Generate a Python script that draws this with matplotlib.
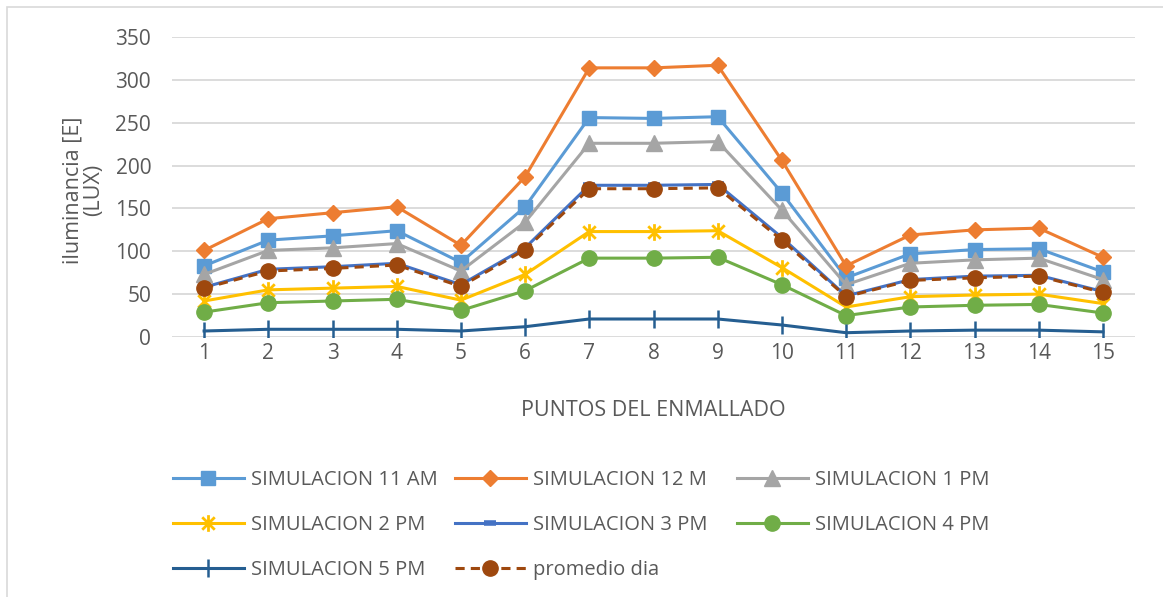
import matplotlib.pyplot as plt
from matplotlib.path import Path
from matplotlib.patches import Rectangle

plt.rcParams['font.family'] = ['Open Sans', 'DejaVu Sans']

puntos = list(range(1, 16))

sim_11am = [83, 113, 118, 124, 87, 152, 256, 255, 257, 168, 69, 97, 102, 103, 76]
sim_12m = [101, 138, 145, 152, 107, 187, 314, 314, 317, 206, 83, 119, 125, 127, 93]
sim_1pm = [73, 101, 104, 109, 77, 134, 226, 226, 228, 148, 61, 86, 90, 92, 67]
sim_2pm = [42, 55, 57, 59, 43, 73, 123, 123, 124, 81, 35, 47, 49, 50, 39]
sim_3pm = [58, 79, 82, 86, 61, 104, 177, 177, 178, 116, 48, 67, 71, 72, 53]
sim_4pm = [29, 40, 42, 44, 31, 54, 92, 92, 93, 61, 25, 35, 37, 38, 28]
sim_5pm = [7, 9, 9, 9, 7, 12, 21, 21, 21, 14, 5, 7, 8, 8, 6]
promedio = [57, 77, 80, 84, 59, 102, 173, 173, 174, 113, 47, 66, 69, 71, 52]

# asterisk marker: vertical bar plus an X
star = Path([(0, -1), (0, 1), (-0.75, -0.75), (0.75, 0.75), (-0.75, 0.75), (0.75, -0.75)],
            [Path.MOVETO, Path.LINETO, Path.MOVETO, Path.LINETO, Path.MOVETO, Path.LINETO])

series = [
    ("SIMULACION 11 AM", sim_11am, dict(color="#5B9BD5", marker="s", ms=10)),
    ("SIMULACION 12 M", sim_12m, dict(color="#ED7D31", marker="D", ms=8.5)),
    ("SIMULACION 1 PM", sim_1pm, dict(color="#A5A5A5", marker="^", ms=11)),
    ("SIMULACION 2 PM", sim_2pm, dict(color="#FFC000", marker=star, ms=12, mew=2)),
    ("SIMULACION 3 PM", sim_3pm, dict(color="#4472C4", marker="_", ms=9, mew=4)),
    ("SIMULACION 4 PM", sim_4pm, dict(color="#70AD47", marker="o", ms=11)),
    ("SIMULACION 5 PM", sim_5pm, dict(color="#255E91", marker="|", ms=13, mew=1.8)),
    ("promedio dia", promedio, dict(color="#9E480E", marker="o", ms=11, ls=(0, (3, 2)))),
]

fig = plt.figure(figsize=(11.63, 5.97), dpi=100)
ax = fig.add_axes([172 / 1163, 1 - 337 / 597, 963 / 1163, 300 / 597])

for name, vals, st in series:
    st = dict(st)
    ls = st.pop("ls", "-")
    ax.plot(puntos, vals, label=name, lw=2.2, ls=ls, mec=st["color"], **st)

ax.set_xlim(0.5, 15.5)
ax.set_ylim(0, 350)
ax.set_yticks(range(0, 351, 50))
ax.set_xticks(puntos)
ax.grid(axis="y", color="#D9D9D9", lw=1.3)
ax.set_axisbelow(True)
for s in ax.spines.values():
    s.set_visible(False)
ax.tick_params(length=0, labelsize=15, colors="#595959", pad=4)
ax.tick_params(axis="y", pad=15)

ax.set_xlabel("PUNTOS DEL ENMALLADO", fontsize=15.5, color="#595959", labelpad=26)
ax.set_ylabel("iluminancia [E]\n(LUX)", fontsize=15.5, color="#595959",
              va="center", linespacing=1.0)
ax.yaxis.set_label_coords(-0.0924, 0.49)

# legend laid out as three fixed-position columns, filled row by row
handles, labels = ax.get_legend_handles_labels()
col_x = [173, 455, 737]
for c, x in enumerate(col_x):
    fig.legend(handles[c::3], labels[c::3],
               loc="upper left", bbox_to_anchor=((x - 18) / 1163, 1 - 452 / 597),
               frameon=False, fontsize=14.5, labelcolor="#595959", handlelength=3.5,
               labelspacing=1.25, handletextpad=0.35)

fig.patches.append(Rectangle((7 / 1163, -0.1), 1.2, 1 - 7 / 597 + 0.1,
                             transform=fig.transFigure, fill=False,
                             edgecolor="#D9D9D9", lw=1.2))

fig.savefig("out.png", dpi=100)
